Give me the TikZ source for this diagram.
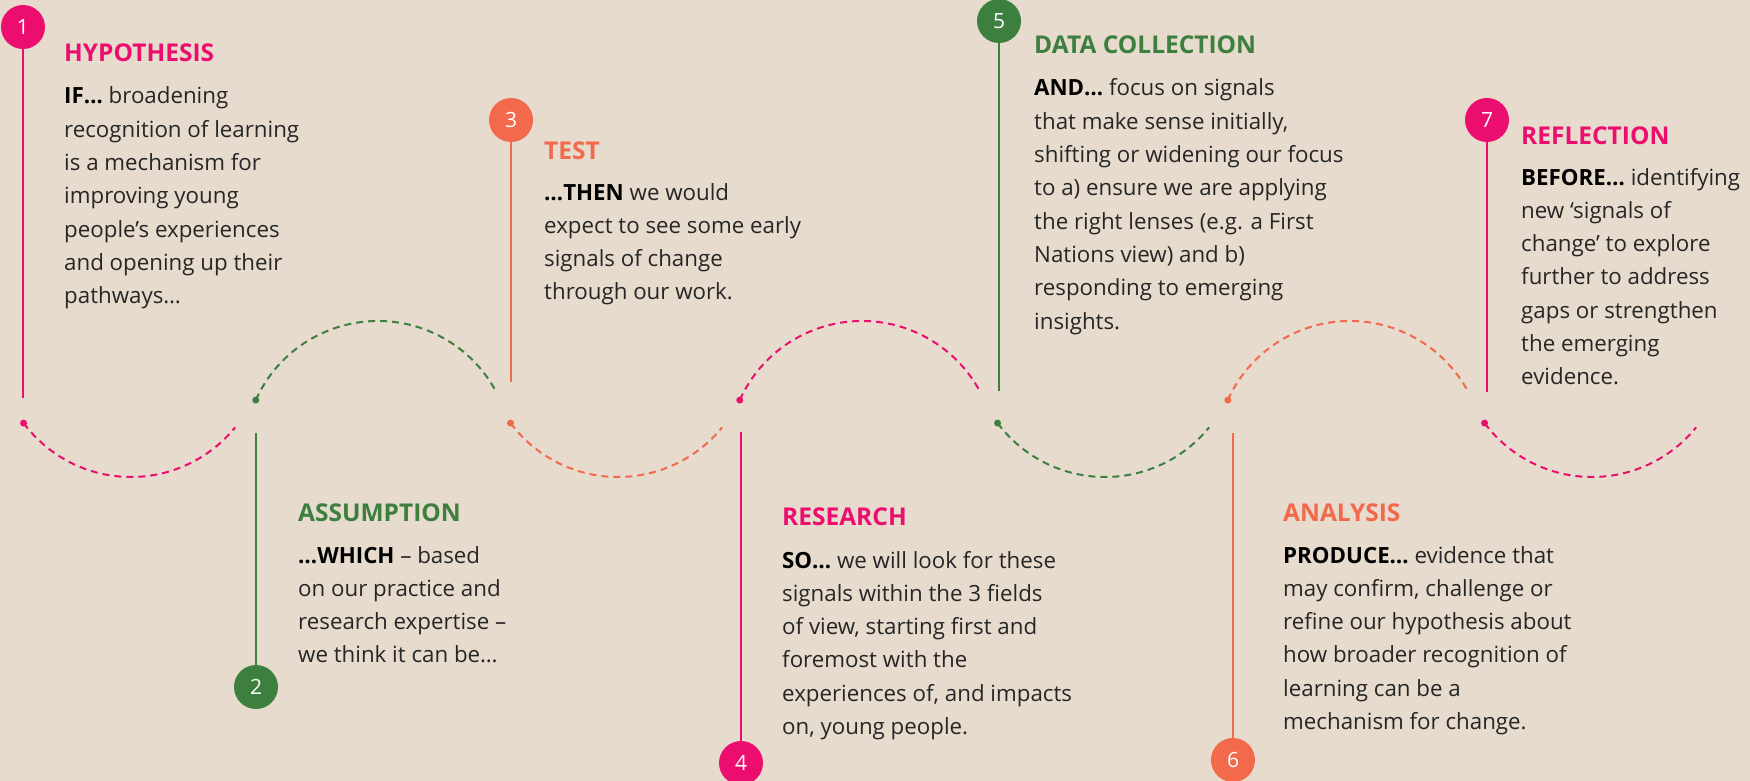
\documentclass[tikz,border=0pt]{standalone}
\usepackage{fontspec}
\setmainfont{Open Sans}
\definecolor{paper}{HTML}{E6DBCC}
\definecolor{rose}{HTML}{EC0E6F}
\definecolor{leaf}{HTML}{3C7F3F}
\definecolor{coral}{HTML}{F2694B}
\definecolor{ink}{HTML}{262626}
\newcommand\lead[1]{\textbf{\color{black}#1}}

\tikzset{
  badge/.style={circle,fill=#1,minimum size=44pt,inner sep=0,text=white,
    font=\fontsize{21}{24}\selectfont},
  stem/.style={draw=#1,line width=2pt},
  wave/.style={draw=#1,line width=2pt,dash pattern=on 7pt off 5pt},
  dot/.style={circle,fill=#1,minimum size=7pt,inner sep=0},
  head/.style={anchor=base west,inner sep=0,text=#1,
    font=\fontsize{24.5}{28}\selectfont\bfseries},
  body/.style={anchor=base west,inner sep=0,text=ink,
    font=\fontsize{22.3}{33.3}\selectfont},
}

\begin{document}
\begin{tikzpicture}[x=1pt,y=1pt]
\useasboundingbox (0,0) rectangle (1750,-781);
\fill[paper] (0,0) rectangle (1750,-781);

% the wave: dips and humps
\draw[wave=rose] (131,-343) ++(216.7:134) node[dot=rose] (d1) {}
  arc[start angle=216.7,end angle=321,radius=134];
\draw[wave=leaf] (378,-455) ++(155.8:134) node[dot=leaf] (d2) {}
  arc[start angle=155.8,end angle=27.6,radius=134];
\draw[wave=coral] (618,-343) ++(216.7:134) node[dot=coral] (d3) {}
  arc[start angle=216.7,end angle=321,radius=134];
\draw[wave=rose] (862,-455) ++(155.8:134) node[dot=rose] (d4) {}
  arc[start angle=155.8,end angle=27.6,radius=134];
\draw[wave=leaf] (1105,-343) ++(216.7:134) node[dot=leaf] (d5) {}
  arc[start angle=216.7,end angle=321,radius=134];
\draw[wave=coral] (1350,-455) ++(155.8:134) node[dot=coral] (d6) {}
  arc[start angle=155.8,end angle=27.6,radius=134];
\draw[wave=rose] (1592,-343) ++(216.7:134) node[dot=rose] (d7) {}
  arc[start angle=216.7,end angle=321,radius=134];

% numbered badges and their stems
\node[badge=rose] (n1) at (23,-27) {1};
\node[badge=leaf] (n2) at (256,-687) {2};
\node[badge=coral] (n3) at (511,-120) {3};
\node[badge=rose] (n4) at (741,-763) {4};
\node[badge=leaf] (n5) at (999,-21) {5};
\node[badge=coral] (n6) at (1233,-760) {6};
\node[badge=rose] (n7) at (1487,-120) {7};

\coordinate (s1) at (23,-398);
\coordinate (s2) at (256,-433);
\coordinate (s3) at (511,-382);
\coordinate (s4) at (741,-432);
\coordinate (s5) at (999,-391);
\coordinate (s6) at (1233,-433);
\coordinate (s7) at (1487,-392);

\draw[stem=rose] (n1) -- (s1);
\draw[stem=leaf] (s2) -- (n2);
\draw[stem=coral] (n3) -- (s3);
\draw[stem=rose] (s4) -- (n4);
\draw[stem=leaf] (n5) -- (s5);
\draw[stem=coral] (s6) -- (n6);
\draw[stem=rose] (n7) -- (s7);

% texts
\node[head=rose] (h1) at (64,-62) {HYPOTHESIS};
\node[body] (p1) at (64,-104) {\parbox[t]{300pt}{\lead{IF…} broadening\\
  recognition of learning\\ is a mechanism for\\ improving young\\
  people’s experiences\\ and opening up their\\ pathways…}};

\node[head=leaf] (h2) at (298,-521) {ASSUMPTION};
\node[body] (p2) at (298,-563) {\parbox[t]{300pt}{\lead{…WHICH} – based\\
  on our practice and\\ research expertise –\\ we think it can be…}};

\node[head=coral] (h3) at (544,-159) {TEST};
\node[body] (p3) at (544,-200) {\parbox[t]{300pt}{\lead{…THEN} we would\\
  expect to see some early\\ signals of change\\ through our work.}};

\node[head=rose] (h4) at (782,-525) {RESEARCH};
\node[body] (p4) at (782,-568) {\parbox[t]{340pt}{\lead{SO…} we will look for these\\
  signals within the 3 fields\\ of view, starting first and\\ foremost with the\\
  experiences of, and impacts\\ on, young people.}};

\node[head=leaf] (h5) at (1034,-54) {DATA COLLECTION};
\node[body] (p5) at (1034,-96) {\parbox[t]{340pt}{\lead{AND…} focus on signals\\
  that make sense initially,\\ shifting or widening our focus\\
  to a) ensure we are applying\\ the right lenses (e.g. a First\\
  Nations view) and b)\\ responding to emerging\\ insights.}};

\node[head=coral] (h6) at (1283,-521) {ANALYSIS};
\node[body] (p6) at (1283,-563) {\parbox[t]{340pt}{\lead{PRODUCE…} evidence that\\
  may confirm, challenge or\\ refine our hypothesis about\\
  how broader recognition of\\ learning can be a\\ mechanism for change.}};

\node[head=rose] (h7) at (1521,-144) {REFLECTION};
\node[body] (p7) at (1521,-185) {\parbox[t]{225pt}{\lead{BEFORE…} identifying\\
  new ‘signals of\\ change’ to explore\\ further to address\\
  gaps or strengthen\\ the emerging\\ evidence.}};
\end{tikzpicture}
\end{document}
